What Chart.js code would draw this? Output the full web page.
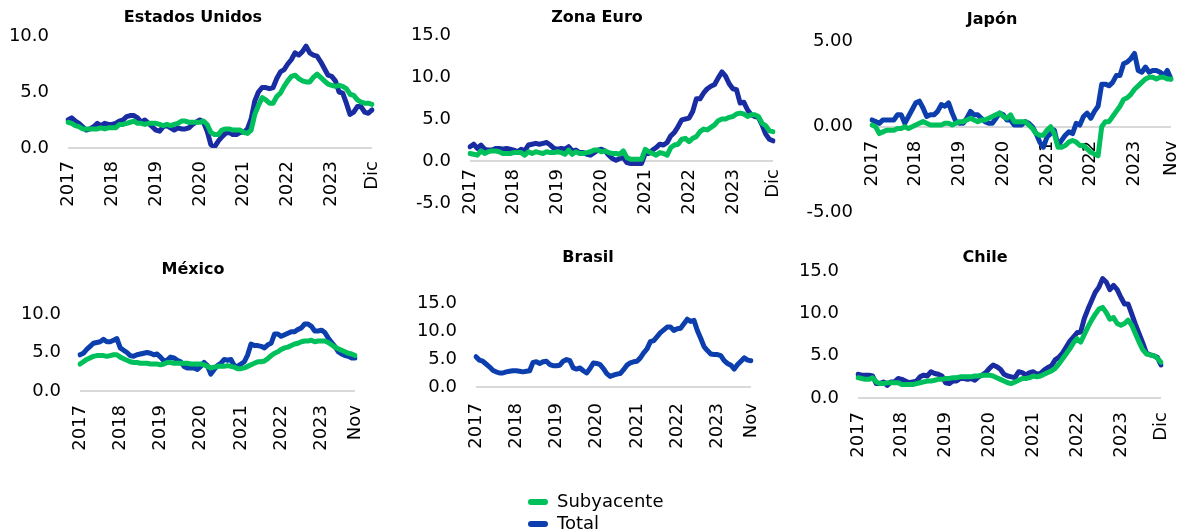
<!DOCTYPE html>
<html>
<head>
<meta charset="utf-8">
<script src="https://cdn.jsdelivr.net/npm/chart.js@4.4.1/dist/chart.umd.min.js"></script>
<style>
  body { margin: 0; background: #fff; }
  #wrap { position: relative; width: 1187px; height: 532px; overflow: hidden; }
  canvas { position: absolute; }
</style>
</head>
<body>
<div id="wrap">
  <canvas id="c_us"></canvas>
  <canvas id="c_euro"></canvas>
  <canvas id="c_jp"></canvas>
  <canvas id="c_mx"></canvas>
  <canvas id="c_br"></canvas>
  <canvas id="c_cl"></canvas>
  <canvas id="c_legend"></canvas>
</div>
<script>
// categories
var years = ['2017', '2018', '2019', '2020', '2021', '2022', '2023'];
var month_names = ['Ene', 'Feb', 'Mar', 'Abr', 'May', 'Jun', 'Jul', 'Ago', 'Sep', 'Oct', 'Nov', 'Dic'];

// Estados Unidos
var us_core = [2.3, 2.2, 2.0, 1.9, 1.7, 1.7, 1.7, 1.7, 1.7, 1.8, 1.7, 1.8,
  1.8, 1.8, 2.1, 2.1, 2.2, 2.3, 2.4, 2.2, 2.2, 2.1, 2.2, 2.2,
  2.2, 2.1, 2.0, 2.1, 2.0, 2.1, 2.2, 2.4, 2.4, 2.3, 2.3, 2.3,
  2.3, 2.4, 2.1, 1.4, 1.2, 1.2, 1.6, 1.7, 1.7, 1.6, 1.6, 1.6,
  1.4, 1.3, 1.6, 3.0, 3.8, 4.5, 4.3, 4.0, 4.0, 4.6, 4.9, 5.5,
  6.0, 6.4, 6.5, 6.2, 6.0, 5.9, 5.9, 6.3, 6.6, 6.3, 6.0, 5.7,
  5.6, 5.5, 5.6, 5.5, 5.3, 4.8, 4.7, 4.3, 4.1, 4.0, 4.0, 3.9];
var us_total = [2.5, 2.7, 2.4, 2.2, 1.9, 1.6, 1.7, 1.9, 2.2, 2.0, 2.2, 2.1,
  2.1, 2.2, 2.4, 2.5, 2.8, 2.9, 2.9, 2.7, 2.3, 2.5, 2.2, 1.9,
  1.6, 1.5, 1.9, 2.0, 1.8, 1.6, 1.8, 1.7, 1.7, 1.8, 2.1, 2.3,
  2.5, 2.3, 1.5, 0.3, 0.1, 0.6, 1.0, 1.3, 1.4, 1.2, 1.2, 1.4,
  1.4, 1.7, 2.6, 4.2, 5.0, 5.4, 5.4, 5.3, 5.4, 6.2, 6.8, 7.0,
  7.5, 7.9, 8.5, 8.3, 8.6, 9.1, 8.5, 8.3, 8.2, 7.7, 7.1, 6.5,
  6.4, 6.0, 5.0, 4.9, 4.0, 3.0, 3.2, 3.7, 3.7, 3.2, 3.1, 3.4];

// Zona Euro
var euro_core = [0.9, 0.8, 0.7, 1.2, 0.9, 1.1, 1.2, 1.2, 1.1, 0.9, 0.9, 0.9,
  1.0, 1.0, 1.0, 0.7, 1.1, 0.9, 1.1, 1.0, 0.9, 1.1, 1.0, 1.0,
  1.1, 1.0, 0.8, 1.3, 0.8, 1.1, 0.9, 0.9, 1.0, 1.1, 1.3, 1.3,
  1.1, 1.2, 1.0, 0.9, 0.9, 0.8, 1.2, 0.4, 0.2, 0.2, 0.2, 0.2,
  1.4, 1.1, 0.9, 0.7, 1.0, 0.9, 0.7, 1.6, 1.9, 2.0, 2.6, 2.7,
  2.3, 2.7, 2.9, 3.5, 3.8, 3.7, 4.0, 4.3, 4.8, 5.0, 5.0, 5.2,
  5.3, 5.6, 5.7, 5.6, 5.3, 5.5, 5.5, 5.3, 4.5, 4.2, 3.6, 3.5];
var euro_total = [1.7, 2.0, 1.5, 1.9, 1.4, 1.3, 1.3, 1.5, 1.5, 1.4, 1.5, 1.4,
  1.3, 1.1, 1.4, 1.2, 1.9, 2.0, 2.1, 2.0, 2.1, 2.2, 1.9, 1.5,
  1.4, 1.5, 1.4, 1.7, 1.2, 1.3, 1.0, 1.0, 0.8, 0.7, 1.0, 1.3,
  1.4, 1.2, 0.7, 0.3, 0.1, 0.3, 0.4, -0.2, -0.3, -0.3, -0.3, -0.3,
  0.9, 0.9, 1.3, 1.6, 2.0, 1.9, 2.2, 3.0, 3.4, 4.1, 4.9, 5.0,
  5.1, 5.9, 7.4, 7.4, 8.1, 8.6, 8.9, 9.1, 9.9, 10.6, 10.1, 9.2,
  8.6, 8.5, 6.9, 7.0, 6.1, 5.5, 5.3, 5.2, 4.3, 3.2, 2.6, 2.4];

// Japón (hasta noviembre)
var jp_core = [0.1, 0.0, -0.4, -0.3, -0.2, -0.2, -0.2, -0.1, -0.1, 0.0, -0.1, 0.0,
  0.1, 0.2, 0.3, 0.2, 0.1, 0.1, 0.1, 0.1, 0.2, 0.2, 0.1, 0.2,
  0.3, 0.3, 0.4, 0.5, 0.4, 0.3, 0.4, 0.4, 0.5, 0.6, 0.7, 0.8,
  0.6, 0.5, 0.7, 0.3, 0.3, 0.3, 0.3, 0.1, -0.1, -0.4, -0.5, -0.5,
  -0.2, 0.0, -0.4, -1.2, -1.2, -1.1, -0.9, -0.8, -0.9, -1.1, -1.1, -1.3,
  -1.5, -1.6, -1.7, 0.0, 0.3, 0.3, 0.6, 0.9, 1.2, 1.6, 1.7, 1.9,
  2.2, 2.4, 2.6, 2.8, 2.9, 2.9, 2.8, 2.9, 2.9, 2.8, 2.8];
var jp_total = [0.4, 0.3, 0.2, 0.4, 0.4, 0.4, 0.4, 0.7, 0.7, 0.2, 0.6, 1.0,
  1.4, 1.5, 1.1, 0.6, 0.7, 0.7, 0.9, 1.3, 1.2, 1.4, 0.8, 0.3,
  0.2, 0.2, 0.5, 0.9, 0.7, 0.7, 0.5, 0.3, 0.2, 0.2, 0.5, 0.8,
  0.7, 0.4, 0.4, 0.1, 0.1, 0.1, 0.3, 0.2, 0.0, -0.4, -0.9, -1.2,
  -0.6, -0.4, -0.2, -1.1, -0.8, -0.5, -0.3, -0.4, 0.2, 0.1, 0.6, 0.8,
  0.5, 0.9, 1.2, 2.5, 2.5, 2.4, 2.6, 3.0, 3.0, 3.7, 3.8, 4.0,
  4.3, 3.3, 3.2, 3.5, 3.2, 3.3, 3.3, 3.2, 3.0, 3.3, 2.8];

// México (hasta noviembre)
var mx_core = [3.5, 3.8, 4.1, 4.3, 4.5, 4.6, 4.6, 4.6, 4.5, 4.6, 4.7, 4.7,
  4.4, 4.2, 4.0, 3.8, 3.7, 3.7, 3.6, 3.6, 3.6, 3.5, 3.5, 3.5,
  3.4, 3.5, 3.7, 3.7, 3.6, 3.6, 3.6, 3.6, 3.6, 3.5, 3.5, 3.5,
  3.5, 3.4, 3.2, 3.0, 3.1, 3.2, 3.2, 3.2, 3.3, 3.2, 3.1, 2.9,
  2.9, 3.0, 3.2, 3.4, 3.6, 3.8, 3.8, 3.9, 4.2, 4.6, 4.9, 5.1,
  5.4, 5.6, 5.7, 5.9, 6.1, 6.2, 6.4, 6.5, 6.5, 6.6, 6.4, 6.5,
  6.5, 6.5, 6.3, 6.0, 5.7, 5.5, 5.3, 5.1, 4.9, 4.8, 4.6];
var mx_total = [4.7, 4.9, 5.4, 5.8, 6.2, 6.3, 6.4, 6.7, 6.4, 6.4, 6.6, 6.8,
  5.6, 5.3, 5.0, 4.6, 4.5, 4.7, 4.8, 4.9, 5.0, 4.9, 4.7, 4.8,
  4.4, 3.9, 4.0, 4.4, 4.3, 4.0, 3.8, 3.2, 3.0, 3.0, 3.0, 2.8,
  3.2, 3.7, 3.3, 2.2, 2.8, 3.3, 3.6, 4.1, 4.0, 4.1, 3.3, 3.2,
  3.5, 3.8, 4.7, 6.1, 5.9, 5.9, 5.8, 5.6, 6.0, 6.2, 7.4, 7.4,
  7.1, 7.3, 7.5, 7.7, 7.7, 8.0, 8.2, 8.7, 8.7, 8.4, 7.8, 7.8,
  7.9, 7.6, 6.9, 6.3, 5.8, 5.1, 4.8, 4.6, 4.5, 4.3, 4.3];

// Brasil (hasta noviembre, solo total)
var br_total = [5.4, 4.8, 4.6, 4.1, 3.6, 3.0, 2.7, 2.5, 2.5, 2.7, 2.8, 2.9,
  2.9, 2.8, 2.7, 2.8, 2.9, 4.4, 4.5, 4.2, 4.5, 4.6, 4.0, 3.8,
  3.8, 3.9, 4.6, 4.9, 4.7, 3.4, 3.2, 3.4, 2.9, 2.5, 3.3, 4.3,
  4.2, 4.0, 3.3, 2.4, 1.9, 2.1, 2.3, 2.4, 3.1, 3.9, 4.3, 4.5,
  4.6, 5.2, 6.1, 6.8, 8.1, 8.3, 9.0, 9.7, 10.2, 10.7, 10.7, 10.1,
  10.4, 10.5, 11.3, 12.1, 11.7, 11.9, 10.1, 8.7, 7.2, 6.5, 5.9, 5.8,
  5.8, 5.6, 4.7, 4.2, 3.9, 3.2, 4.0, 4.6, 5.2, 4.8, 4.7];

// Chile
var cl_core = [2.4, 2.3, 2.2, 2.2, 2.4, 1.9, 1.7, 1.7, 1.8, 1.8, 1.8, 1.8,
  1.6, 1.6, 1.6, 1.6, 1.7, 1.8, 1.9, 2.0, 2.0, 2.1, 2.2, 2.2,
  2.3, 2.3, 2.4, 2.4, 2.5, 2.5, 2.5, 2.5, 2.6, 2.6, 2.7, 2.7,
  2.7, 2.6, 2.4, 2.2, 2.0, 1.8, 1.7, 1.9, 2.1, 2.3, 2.3, 2.4,
  2.6, 2.5, 2.6, 2.8, 3.0, 3.2, 3.5, 4.0, 4.6, 5.2, 5.8, 6.5,
  7.0, 6.6, 7.5, 8.4, 9.2, 9.9, 10.5, 10.7, 10.1, 9.3, 9.5, 8.8,
  8.6, 8.8, 9.2, 8.6, 7.6, 6.6, 5.7, 5.2, 5.1, 5.0, 4.7, 4.2];
var cl_total = [2.8, 2.7, 2.7, 2.7, 2.6, 1.7, 1.7, 1.9, 1.5, 1.9, 1.9, 2.3,
  2.2, 2.0, 1.8, 1.9, 2.0, 2.5, 2.7, 2.6, 3.1, 2.9, 2.8, 2.6,
  1.8, 1.7, 2.0, 2.0, 2.3, 2.3, 2.2, 2.3, 2.1, 2.5, 2.7, 3.0,
  3.5, 3.9, 3.7, 3.4, 2.8, 2.6, 2.5, 2.4, 3.1, 3.0, 2.7, 3.0,
  3.1, 2.8, 2.9, 3.3, 3.6, 3.8, 4.5, 4.8, 5.3, 6.0, 6.7, 7.2,
  7.7, 7.8, 9.4, 10.5, 11.5, 12.5, 13.1, 14.1, 13.7, 12.8, 13.3, 12.8,
  11.9, 11.1, 11.1, 9.9, 8.7, 7.6, 6.5, 5.3, 5.1, 5.0, 4.8, 3.9];

var green = '#00c05c';
var blue_dark = '#1a2ca2';
var blue_mid = '#0c3fad';

Chart.defaults.font.family = '"DejaVu Sans", sans-serif';
Chart.defaults.color = '#000';

var month_labels = [];
years.forEach(function(y) {
  month_names.forEach(function(m) { month_labels.push(m + ' ' + y); });
});

function add_panel(p) {
  var canvas = document.getElementById(p.id);
  canvas.width = p.w;
  canvas.height = p.h;
  canvas.style.left = p.x + 'px';
  canvas.style.top = p.y + 'px';
  var n = p.total.length;

  // subyacente first so it is drawn on top
  var datasets = [];
  if (p.core) {
    datasets.push({label: 'Subyacente', data: p.core, borderColor: green});
  }
  datasets.push({label: 'Total', data: p.total, borderColor: p.blue});
  datasets.forEach(function(d) {
    d.borderWidth = 5;
    d.pointRadius = 0;
    d.tension = 0;
    d.fill = false;
    d.borderCapStyle = 'round';
    d.borderJoinStyle = 'round';
  });

  new Chart(canvas, {
    type: 'line',
    data: {labels: month_labels.slice(0, n), datasets: datasets},
    options: {
      responsive: false,
      animation: false,
      events: [],
      layout: {padding: {left: 0, right: 0, top: 0, bottom: p.pad_bottom}},
      plugins: {
        legend: {display: false},
        tooltip: {enabled: false},
        title: {
          display: true,
          text: p.title,
          font: {size: 16, weight: 'bold'},
          padding: {top: p.t_top, bottom: p.t_bottom}
        }
      },
      scales: {
        x: {
          position: {y: 0},
          grid: {display: false, drawTicks: false},
          border: {display: false},
          ticks: {
            autoSkip: false,
            minRotation: 90,
            maxRotation: 90,
            padding: p.tick_pad,
            font: {size: 18},
            callback: function(v, i) {
              if (i === n - 1) return p.last;
              return i % 12 === 0 ? years[i / 12] : '';
            }
          },
          afterFit: function(s) {
            s.paddingLeft = 0;
            s.paddingRight = 0;
          }
        },
        y: {
          min: p.min,
          max: p.max,
          grid: {
            drawTicks: false,
            lineWidth: 2,
            color: function(ctx) {
              return ctx.tick && ctx.tick.value === 0 ? '#d9d9d9' : 'rgba(0,0,0,0)';
            }
          },
          border: {display: false},
          ticks: {
            stepSize: 5,
            padding: 19,
            font: {size: 18},
            callback: function(v) { return v.toFixed(p.dec); }
          },
          afterFit: function(s) {
            s.width = p.y_w;
            s.paddingRight = p.pad_right;
            s.paddingTop = 0;
            s.paddingBottom = 0;
          }
        }
      }
    }
  });
}

add_panel({id: 'c_us', title: 'Estados Unidos', core: us_core, total: us_total, blue: blue_dark, last: 'Dic',
  min: 0, max: 10, dec: 1, x: 0, y: 0, w: 386, h: 220, y_w: 68, pad_right: 14,
  t_top: 8.4, t_bottom: 8.4, pad_bottom: 72, tick_pad: 13});
add_panel({id: 'c_euro', title: 'Zona Euro', core: euro_core, total: euro_total, blue: blue_dark, last: 'Dic',
  min: -5, max: 15, dec: 1, x: 402, y: 0, w: 390, h: 227, y_w: 68, pad_right: 19,
  t_top: 8.4, t_bottom: 7.4, pad_bottom: 24, tick_pad: 8});
add_panel({id: 'c_jp', title: 'Japón', core: jp_core, total: jp_total, blue: blue_mid, last: 'Nov',
  min: -5, max: 5, dec: 2, x: 799, y: 0, w: 386, h: 226, y_w: 73, pad_right: 14,
  t_top: 10.4, t_bottom: 11.9, pad_bottom: 14, tick_pad: 14});
add_panel({id: 'c_mx', title: 'México', core: mx_core, total: mx_total, blue: blue_mid, last: 'Nov',
  min: 0, max: 10, dec: 1, x: 10, y: 250, w: 366, h: 201, y_w: 70, pad_right: 21,
  t_top: 10.4, t_bottom: 34.4, pad_bottom: 60, tick_pad: 14});
add_panel({id: 'c_br', title: 'Brasil', core: null, total: br_total, blue: blue_mid, last: 'Nov',
  min: 0, max: 15, dec: 1, x: 410, y: 240, w: 356, h: 209, y_w: 66, pad_right: 15,
  t_top: 8.4, t_bottom: 35.4, pad_bottom: 62, tick_pad: 16});
add_panel({id: 'c_cl', title: 'Chile', core: cl_core, total: cl_total, blue: blue_dark, last: 'Dic',
  min: 0, max: 15, dec: 1, x: 797, y: 240, w: 376, h: 222, y_w: 61, pad_right: 12,
  t_top: 8.4, t_bottom: 3.4, pad_bottom: 64, tick_pad: 14});

// leyenda común
var legend_canvas = document.getElementById('c_legend');
legend_canvas.width = 160;
legend_canvas.height = 120;
legend_canvas.style.left = '524px';
legend_canvas.style.top = '489px';
new Chart(legend_canvas, {
  type: 'line',
  data: {
    labels: [],
    datasets: [
      {label: 'Subyacente', data: [], borderColor: green, backgroundColor: green, borderWidth: 0},
      {label: 'Total', data: [], borderColor: blue_mid, backgroundColor: blue_mid, borderWidth: 0}
    ]
  },
  options: {
    responsive: false,
    animation: false,
    events: [],
    layout: {padding: 0},
    scales: {x: {display: false}, y: {display: false}},
    plugins: {
      tooltip: {enabled: false},
      legend: {
        display: true,
        position: 'top',
        align: 'start',
        labels: {boxWidth: 20, boxHeight: 6, padding: 4, font: {size: 18}, useBorderRadius: true, borderRadius: 3}
      }
    }
  }
});
</script>
</body>
</html>
